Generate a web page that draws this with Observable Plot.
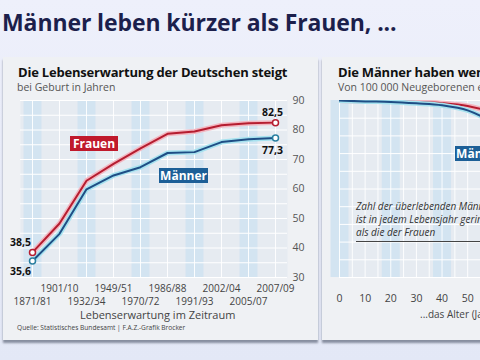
<!DOCTYPE html>
<html><head><meta charset="utf-8">
<script src="https://cdn.jsdelivr.net/npm/d3@7"></script>
<script src="https://cdn.jsdelivr.net/npm/@observablehq/plot@0.6"></script>
<style>
html,body{margin:0;padding:0;}
body{width:480px;height:360px;overflow:hidden;position:relative;background:linear-gradient(#eef0fb,#e3e8f6);font-family:"Open Sans",sans-serif;}
.abs{position:absolute;white-space:nowrap;}
.card{position:absolute;background:#eff1f4;box-shadow:0 3px 2px rgba(60,70,90,0.55);}
#title{left:2px;top:6px;font-size:23px;font-weight:700;color:#1c1f4c;letter-spacing:-0.1px;}
.h2{font-size:13px;font-weight:700;color:#111;letter-spacing:-0.2px;}
.h3{font-size:10.5px;color:#555;}
.box{position:absolute;color:#fff;font-weight:700;font-size:12px;text-align:center;line-height:15px;height:15px;}
svg{overflow:visible;}
</style></head>
<body>
<div class="card" style="left:3px;top:57px;width:315px;height:283px;"></div>
<div class="card" style="left:322px;top:57px;width:170px;height:283px;"></div>
<div id="title" class="abs">Männer leben kürzer als Frauen, ...</div>
<div class="abs h2" style="left:18px;top:63px;">Die Lebenserwartung der Deutschen steigt</div>
<div class="abs h3" style="left:17px;top:80px;">bei Geburt in Jahren</div>
<div class="abs h2" style="left:338px;top:63px;">Die Männer haben weniger Lebensjahre</div>
<div class="abs h3" style="left:338px;top:80px;">Von 100 000 Neugeborenen erreichen ...</div>
<div id="left" class="abs" style="left:0;top:92px;"></div>
<div id="right" class="abs" style="left:322px;top:92px;"></div>
<div class="abs" style="left:80px;top:307px;font-size:11px;color:#444;">Lebenserwartung im Zeitraum</div>
<div class="abs" style="left:17px;top:323px;font-size:6.6px;color:#444;">Quelle: Statistisches Bundesamt | F.A.Z.-Grafik Brocker</div>
<div class="abs" style="left:420px;top:307px;font-size:10px;color:#444;">...das Alter (Jahre)</div>
<div class="box" style="left:70px;top:136px;width:48px;background:#c0192c;">Frauen</div>
<div class="box" style="left:159px;top:168px;width:49px;background:#1d5f97;">Männer</div>
<div class="box" style="left:455px;top:146px;width:49px;background:#1d5f97;">Männer</div>
<div class="abs" style="left:356px;top:200px;font-size:10px;font-style:italic;color:#333;line-height:13px;border-bottom:1.5px solid #444;padding-bottom:2px;">Zahl der überlebenden Männer<br>ist in jedem Lebensjahr geringer<br>als die der Frauen</div>
<script>
const periods = ["1871/81","1901/10","1932/34","1949/51","1970/72","1986/88","1991/93","2002/04","2005/07","2007/09"];
const frauen = [38.5,48.3,62.8,68.5,73.8,78.7,79.5,81.6,82.3,82.5];
const maenner = [35.6,44.8,59.9,64.6,67.4,72.2,72.5,75.9,76.9,77.3];
const yTicks = [30,40,50,60,70,80,90];
const ages = [0,10,20,30,40,50,60];
const survF = [100000,99600,99450,99150,98500,96900,93200];
const survM = [100000,99500,99200,98400,97300,94400,87500];
const ageTicks = [0,10,20,30,40,50];

const fmt = v => v.toFixed(1).replace(".", ",");
const dataF = periods.map((p,i)=>({p, v:frauen[i]}));
const dataM = periods.map((p,i)=>({p, v:maenner[i]}));
const ends = d => [d[0], d[d.length-1]];
const upper = periods.filter((_,i)=>i%2===1);
const lower = periods.filter((_,i)=>i%2===0);
const red="#b51d30", blue="#1f4e85";

const left = Plot.plot({
  width:320, height:225, marginLeft:20, marginRight:33, marginTop:8, marginBottom:40,
  style:{background:"transparent", fontFamily:"Open Sans, sans-serif"},
  x:{type:"point", domain:periods, padding:0.44, axis:null},
  y:{domain:[30,90], axis:null},
  marks:[
    Plot.frame({fill:"#e6ebf1", stroke:null}),
    Plot.tickX(lower, {x:d=>d, stroke:"#d3e4f1", strokeWidth:18}),
    Plot.gridY(d3.range(30,91,5), {stroke:"#fff", strokeOpacity:1, strokeWidth:1}),
    Plot.gridX(periods, {stroke:"#fff", strokeOpacity:0.9}),
    Plot.line(dataF, {x:"p", y:"v", stroke:"#f3b6c0", strokeWidth:5}),
    Plot.line(dataF, {x:"p", y:"v", stroke:red, strokeWidth:2}),
    Plot.line(dataM, {x:"p", y:"v", stroke:"#a6e2ef", strokeWidth:5}),
    Plot.line(dataM, {x:"p", y:"v", stroke:blue, strokeWidth:2}),
    Plot.dot(ends(dataF), {x:"p", y:"v", r:3, fill:"#fff", stroke:red, strokeWidth:1.5}),
    Plot.dot(ends(dataM), {x:"p", y:"v", r:3, fill:"#fff", stroke:"#2a7fa0", strokeWidth:1.5}),
    Plot.text([dataF[0]], {x:"p", y:"v", text:d=>fmt(d.v), dx:-12, dy:-10, fontWeight:"bold", fontSize:10.5, fill:"#111"}),
    Plot.text([dataM[0]], {x:"p", y:"v", text:d=>fmt(d.v), dx:-12, dy:11, fontWeight:"bold", fontSize:10.5, fill:"#111"}),
    Plot.text([dataF[9]], {x:"p", y:"v", text:d=>fmt(d.v), dx:-3, dy:-10, fontWeight:"bold", fontSize:10.5, fill:"#111"}),
    Plot.text([dataM[9]], {x:"p", y:"v", text:d=>fmt(d.v), dx:-3, dy:13, fontWeight:"bold", fontSize:10.5, fill:"#111"}),
    Plot.axisY(yTicks, {anchor:"right", label:null, tickSize:0, tickPadding:5, fontSize:10.5, fill:"#555"}),
    Plot.axisX(upper, {label:null, tickSize:0, tickPadding:7, fontSize:10, fill:"#444"}),
    Plot.axisX(lower, {label:null, tickSize:0, tickPadding:20, fontSize:10, fill:"#444"})
  ]
});
document.getElementById("left").appendChild(left);

const sF = ages.map((a,i)=>({a, v:survF[i]}));
const sM = ages.map((a,i)=>({a, v:survM[i]}));
const right = Plot.plot({
  width:158, height:225, marginLeft:17, marginRight:0, marginTop:8, marginBottom:40,
  style:{background:"transparent", fontFamily:"Open Sans, sans-serif"},
  x:{domain:[0,55], axis:null},
  y:{domain:[0,100000], axis:null},
  marks:[
    Plot.frame({fill:"#e6ebf1", stroke:null}),
    Plot.tickX([0,20,40], {x:d=>d, stroke:"#d3e4f1", strokeWidth:18}),
    Plot.gridY(d3.range(0,100001,10000), {stroke:"#fff", strokeOpacity:1}),
    Plot.gridX(d3.range(0,56,5), {stroke:"#fff", strokeOpacity:0.9}),
    Plot.line(sF, {x:"a", y:"v", stroke:"#f3b6c0", strokeWidth:5, curve:"monotone-x", clip:true}),
    Plot.line(sF, {x:"a", y:"v", stroke:red, strokeWidth:2, curve:"monotone-x", clip:true}),
    Plot.line(sM, {x:"a", y:"v", stroke:"#a6e2ef", strokeWidth:5, curve:"monotone-x", clip:true}),
    Plot.line(sM, {x:"a", y:"v", stroke:blue, strokeWidth:2, curve:"monotone-x", clip:true}),
    Plot.axisX(ageTicks, {label:null, tickSize:0, tickPadding:17, fontSize:10.5, fill:"#444"})
  ]
});
document.getElementById("right").appendChild(right);
</script>
</body></html>
